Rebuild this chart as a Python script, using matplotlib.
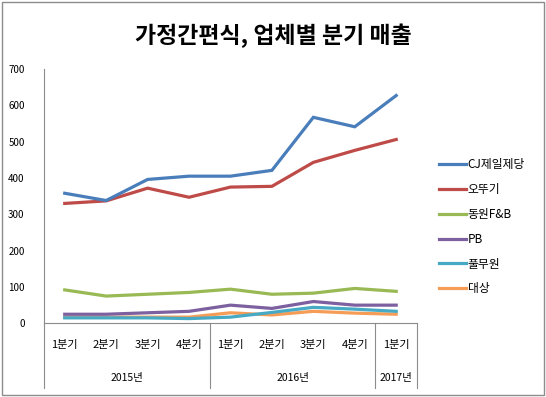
import matplotlib
matplotlib.use("Agg")
import matplotlib.pyplot as plt
from matplotlib.lines import Line2D
from matplotlib.patches import Rectangle

plt.rcParams['font.family'] = ['Noto Sans CJK KR', 'DejaVu Sans']

quarters = ["1분기", "2분기", "3분기", "4분기", "1분기", "2분기", "3분기", "4분기", "1분기"]
years = ["2015년", "2016년", "2017년"]
year_counts = [4, 4, 1]
series_names = ["CJ제일제당", "오뚜기", "동원F&B", "PB", "풀무원", "대상"]
cj = [358, 338, 396, 405, 405, 421, 567, 541, 627]
ottogi = [330, 337, 372, 347, 375, 377, 443, 476, 506]
dongwon = [92, 75, 80, 85, 94, 80, 83, 96, 88]
pb = [25, 25, 29, 33, 50, 41, 60, 50, 50]
pulmuone = [15, 15, 15, 13, 17, 30, 44, 39, 33]
daesang = [17, 17, 17, 17, 29, 23, 33, 28, 25]
values = [cj, ottogi, dongwon, pb, pulmuone, daesang]
colors = ["#4A7EBB", "#BE4B48", "#98B954", "#7D60A0", "#46AAC5", "#F59D56"]

fig = plt.figure(figsize=(5.46, 3.97), dpi=100)
fig.patches.append(Rectangle((0.004, 0.005), 0.992, 0.99, transform=fig.transFigure,
                             fill=False, edgecolor="#8c8c8c", linewidth=1.0))
ax = fig.add_axes([0.0806, 0.1856, 0.683, 0.6406])

x = list(range(len(quarters)))
for i in range(len(values)):
    ax.plot(x, values[i], color=colors[i], linewidth=2.3, solid_joinstyle='miter',
            label=series_names[i], zorder=3 + (5 - i) * 0.1)

ax.set_xlim(-0.5, len(quarters) - 0.5)
ax.set_ylim(0, 700)
ax.set_yticks(range(0, 701, 100))
ax.tick_params(axis='y', length=0, labelsize=7, pad=14, colors='black')
ax.set_xticks([])
for s in ['top', 'right']:
    ax.spines[s].set_visible(False)
ax.spines['left'].set_color('#8c8c8c')
ax.spines['bottom'].set_color('#8c8c8c')

# multi-level x labels
trans = ax.get_xaxis_transform()
for i, q in enumerate(quarters):
    ax.text(i, -0.085, q, transform=trans, ha='center', va='center', fontsize=8)
start = -0.5
bounds = [start]
for y, c in zip(years, year_counts):
    ax.text(start + c / 2, -0.215, y, transform=trans, ha='center', va='center', fontsize=7.5)
    start += c
    bounds.append(start)
for b in bounds:
    ax.add_line(Line2D([b, b], [0, -0.255], transform=trans, color='#8c8c8c',
                       linewidth=0.8, clip_on=False))

fig.text(0.5, 0.91, "가정간편식, 업체별 분기 매출", ha='center', va='center',
         fontsize=16.5, fontweight='bold')

leg = fig.legend(loc='upper left', bbox_to_anchor=(0.785, 0.628), frameon=False,
                 fontsize=8.5, handlelength=2.3, handletextpad=0.1, labelspacing=1.0)

fig.savefig("out.png", dpi=100)
